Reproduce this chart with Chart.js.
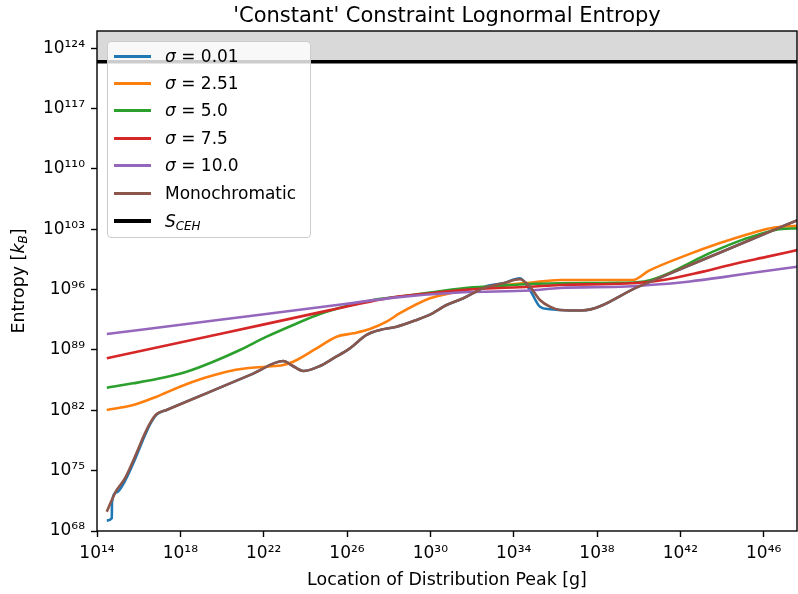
<!DOCTYPE html>
<html>
<head>
<meta charset="utf-8">
<script src="https://cdn.jsdelivr.net/npm/chart.js@4.4.1/dist/chart.umd.min.js"></script>
<style>
  body { margin: 0; background: #fff; }
  #wrap { position: relative; width: 798px; height: 594px; }
  #legend {
    position: absolute; left: 107px; top: 41px; width: 202px; height: 195px;
    background: rgba(255,255,255,0.8); border: 1px solid #cccccc; border-radius: 4px;
    font-family: "DejaVu Sans", sans-serif; font-size: 17px; color: #000;
  }
  .row-line { position: absolute; left: 6px; width: 37px; height: 3px; }
  .row-text { position: absolute; left: 57px; height: 20px; line-height: 20px; white-space: nowrap; }
  .row-text sub { font-size: 70%; font-style: italic; vertical-align: -3px; }
</style>
</head>
<body>
<div id="wrap">
  <canvas id="entropy" width="798" height="594"></canvas>
  <div id="legend"></div>
</div>
<script>
//-------------------------- Data (log10 of values) --------------------------//
const xTicks = [14, 18, 22, 26, 30, 34, 38, 42, 46];
const yTicks = [68, 75, 82, 89, 96, 103, 110, 117, 124];

const blueX = [14.47, 14.71, 14.72, 14.95, 15.34, 15.82, 16.30, 16.54, 16.86, 17.34, 19.50, 21.50, 22.94, 23.40, 23.90, 24.70, 25.34, 26.14, 26.94, 27.58, 28.38, 29.34, 29.98, 30.78, 31.58, 32.20, 32.77, 33.50, 34.30, 34.78, 35.26, 35.74, 36.22, 37.26, 40.00, 44.00, 47.64];
const blueY = [69.20, 69.47, 71.36, 72.50, 73.80, 76.30, 79.10, 80.35, 81.50, 82.04, 84.23, 86.26, 87.72, 87.14, 86.56, 87.14, 88.03, 89.19, 90.74, 91.32, 91.70, 92.48, 93.10, 94.22, 95.00, 95.80, 96.46, 96.74, 97.32, 95.96, 94.02, 93.72, 93.64, 93.58, 96.35, 100.40, 104.08];

const orangeX = [14.47, 15.74, 16.86, 17.98, 19.10, 20.22, 21.18, 22.14, 22.94, 23.42, 24.54, 25.50, 26.30, 27.10, 27.90, 28.54, 29.98, 30.94, 31.90, 33.18, 34.78, 36.22, 39.72, 40.50, 42.30, 43.90, 45.50, 46.50, 47.64];
const orangeY = [82.04, 82.62, 83.58, 84.74, 85.71, 86.48, 86.87, 87.06, 87.26, 87.64, 89.19, 90.54, 90.93, 91.43, 92.28, 93.26, 94.99, 95.57, 96.04, 96.42, 96.80, 97.12, 97.12, 98.20, 100.00, 101.40, 102.60, 103.20, 103.40];

const greenX = [14.47, 15.74, 17.02, 18.30, 19.58, 20.86, 22.14, 23.42, 24.70, 25.98, 27.26, 28.54, 29.98, 31.58, 33.18, 34.78, 36.22, 39.00, 39.90, 40.54, 41.34, 42.30, 43.20, 44.05, 45.00, 45.66, 46.61, 47.64];
const greenY = [84.62, 85.13, 85.71, 86.48, 87.64, 89.00, 90.54, 91.90, 93.17, 94.10, 94.80, 95.20, 95.65, 96.16, 96.42, 96.66, 96.74, 96.79, 96.86, 97.10, 97.80, 98.90, 100.00, 100.90, 101.80, 102.30, 102.95, 103.12];

const redX = [14.47, 20.00, 25.18, 28.38, 29.50, 31.66, 34.78, 36.22, 39.42, 41.01, 42.93, 44.53, 46.13, 47.64];
const redY = [88.03, 90.90, 93.62, 95.18, 95.46, 95.97, 96.34, 96.54, 96.71, 97.06, 98.00, 98.95, 99.80, 100.60];

const purpleX = [14.47, 20.00, 25.90, 28.38, 31.58, 34.78, 36.22, 39.42, 41.01, 42.46, 44.05, 45.66, 47.64];
const purpleY = [90.85, 92.53, 94.33, 95.10, 95.69, 95.90, 96.19, 96.36, 96.62, 96.95, 97.45, 98.02, 98.66];

const monoX = [14.47, 14.71, 14.95, 15.34, 15.82, 16.30, 16.54, 16.86, 17.34, 19.50, 21.50, 22.94, 23.40, 23.90, 24.70, 25.34, 26.14, 26.94, 27.58, 28.38, 29.34, 29.98, 30.78, 31.58, 32.54, 33.50, 34.30, 34.78, 35.26, 35.74, 36.22, 37.26, 40.00, 44.00, 47.64];
const monoY = [70.24, 71.60, 72.76, 74.11, 76.62, 79.33, 80.49, 81.57, 82.04, 84.23, 86.26, 87.72, 87.14, 86.56, 87.14, 88.03, 89.19, 90.74, 91.32, 91.70, 92.48, 93.10, 94.22, 95.00, 96.16, 96.74, 97.20, 96.34, 94.80, 94.02, 93.64, 93.58, 96.35, 100.40, 104.08];

const sCehX = [14, 47.6];
const sCehY = [122.44, 122.44];

const labels = ['σ = 0.01', 'σ = 2.51', 'σ = 5.0', 'σ = 7.5', 'σ = 10.0', 'Monochromatic', 'S_CEH'];
const colors = ['#1f77b4', '#ff7f0e', '#2ca02c', '#d62728', '#9467bd', '#8c564b', '#000000'];
//------------------------------------------------------------------//

const FONT = '"DejaVu Sans", sans-serif';
const SUP = {'0':'⁰','1':'¹','2':'²','3':'³','4':'⁴','5':'⁵','6':'⁶','7':'⁷','8':'⁸','9':'⁹','-':'⁻'};
function pow10(v){
	return '10' + String(Math.round(v)).split('').map(c => SUP[c]).join('');
}
function pts(xs, ys){
	return xs.map((x, i) => ({x: x, y: ys[i]}));
}

const series = [[blueX, blueY], [orangeX, orangeY], [greenX, greenY], [redX, redY], [purpleX, purpleY], [monoX, monoY]];
const datasets = series.map((s, i) => ({
	label: labels[i],
	data: pts(s[0], s[1]),
	borderColor: colors[i],
	borderWidth: 2.6,
	cubicInterpolationMode: 'monotone',
	fill: false,
	order: 7 - i,
}));
datasets.push({
	label: labels[6],
	data: pts(sCehX, sCehY),
	borderColor: '#000',
	borderWidth: 3.4,
	fill: 'end',
	backgroundColor: 'rgba(128,128,128,0.3)',
	order: 0,
});

//----------------------- Titles and frame -----------------------//
const decorations = {
	id: 'decorations',
	afterDatasetsDraw(chart){
		const ctx = chart.ctx, a = chart.chartArea;
		ctx.save();
		ctx.strokeStyle = '#000';
		ctx.lineWidth = 1.4;
		ctx.strokeRect(a.left, a.top, a.right - a.left, a.bottom - a.top);

		ctx.fillStyle = '#000';
		ctx.textAlign = 'center';
		ctx.textBaseline = 'alphabetic';
		ctx.font = '21px ' + FONT;
		ctx.fillText("'Constant' Constraint Lognormal Entropy", (a.left + a.right) / 2, 21.5);
		ctx.font = '17.4px ' + FONT;
		ctx.fillText('Location of Distribution Peak [g]', (a.left + a.right) / 2, 585);

		// y label with italic k_B
		ctx.translate(23.5, (a.top + a.bottom) / 2);
		ctx.rotate(-Math.PI / 2);
		ctx.textAlign = 'left';
		const parts = [['Entropy [', '17.4px ' + FONT, 0], ['k', 'italic 17.4px ' + FONT, 0], ['B', 'italic 12px ' + FONT, 3.5], [']', '17.4px ' + FONT, 0]];
		let w = 0;
		parts.forEach(p => { ctx.font = p[1]; w += ctx.measureText(p[0]).width; });
		let x = -w / 2;
		parts.forEach(p => { ctx.font = p[1]; ctx.fillText(p[0], x, p[2]); x += ctx.measureText(p[0]).width; });
		ctx.restore();
	}
};

const tickStyle = {font: {family: FONT, size: 17}, color: '#000', padding: 6, autoSkip: false, maxRotation: 0, callback: v => pow10(v)};
const gridStyle = {drawOnChartArea: false, drawTicks: true, tickLength: 6, tickWidth: 1.4, tickColor: '#000'};

new Chart(document.getElementById('entropy'), {
	type: 'line',
	data: {datasets: datasets},
	options: {
		responsive: false,
		devicePixelRatio: 1,
		animation: false,
		layout: {padding: {top: 31, right: 1, left: 0, bottom: 0}},
		elements: {point: {radius: 0}},
		plugins: {legend: {display: false}, tooltip: {enabled: false}},
		scales: {
			x: {
				type: 'linear', min: 14, max: 47.6,
				afterBuildTicks: s => { s.ticks = xTicks.map(v => ({value: v})); },
				afterFit: s => { s.height = 63; },
				ticks: tickStyle, grid: gridStyle, border: {display: false},
			},
			y: {
				type: 'linear', min: 68, max: 126,
				afterBuildTicks: s => { s.ticks = yTicks.map(v => ({value: v})); },
				afterFit: s => { s.width = 97; },
				ticks: tickStyle, grid: gridStyle, border: {display: false},
			},
		},
	},
	plugins: [decorations],
});

//-------------------------- Legend --------------------------//
const legend = document.getElementById('legend');
const rowY = [14, 41, 68, 96, 123, 151, 179];
labels.forEach((lbl, i) => {
	const line = document.createElement('div');
	line.className = 'row-line';
	line.style.top = (rowY[i] - 1) + 'px';
	line.style.background = colors[i];
	if (i === 6) { line.style.height = '4px'; line.style.top = (rowY[i] - 2) + 'px'; }
	legend.appendChild(line);
	const txt = document.createElement('div');
	txt.className = 'row-text';
	txt.style.top = (rowY[i] - 10) + 'px';
	if (lbl.startsWith('σ')) txt.innerHTML = '<i>σ</i>' + lbl.slice(1);
	else if (lbl === 'S_CEH') txt.innerHTML = '<i>S</i><sub>CEH</sub>';
	else txt.textContent = lbl;
	legend.appendChild(txt);
});
</script>
</body>
</html>
